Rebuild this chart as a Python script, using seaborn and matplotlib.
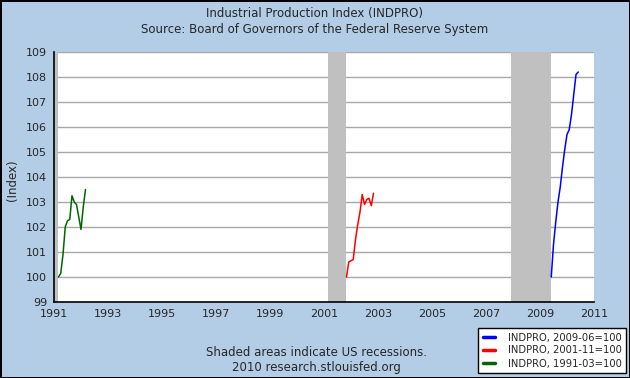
# Industrial Production Index (INDPRO) - indexed to start of each recovery
import seaborn as sns
import matplotlib.pyplot as plt
import pandas as pd

# monthly index values, each series starts at its recession trough (=100)
green_start = '1991-03'
green_vals = [100.0, 100.15, 100.9, 102.0, 102.25, 102.3, 103.25, 103.0,
              102.9, 102.4, 101.9, 102.8, 103.5]

red_start = '2001-11'
red_vals = [100.0, 100.6, 100.65, 100.7, 101.5, 102.1, 102.6, 103.3,
            102.9, 103.1, 103.15, 102.85, 103.35]

blue_start = '2009-06'
blue_vals = [100.0, 101.3, 102.2, 103.0, 103.6, 104.4, 105.1, 105.7,
             105.9, 106.5, 107.3, 108.1, 108.2]

labels = ['INDPRO, 2009-06=100', 'INDPRO, 2001-11=100', 'INDPRO, 1991-03=100']
colors = ['#0000ff', '#ff0000', '#006600']

# recession periods (start, end) as dates
recessions = [('1990-07', '1991-03'), ('2001-03', '2001-11'), ('2007-12', '2009-06')]

year_ticks = list(range(1991, 2012, 2))
y_ticks = list(range(99, 110))


def dec_year(d):
    d = pd.to_datetime(d)
    return d.year + (d.month - 1) / 12


frames = []
for start, vals, lab in [(blue_start, blue_vals, labels[0]),
                         (red_start, red_vals, labels[1]),
                         (green_start, green_vals, labels[2])]:
    dates = pd.date_range(start, periods=len(vals), freq='MS')
    frames.append(pd.DataFrame({'year': [dec_year(d) for d in dates],
                                'value': vals, 'series': lab}))
data = pd.concat(frames, ignore_index=True)

sns.set_style("white")
plt.rcParams['font.family'] = ['DejaVu Sans']

bg = '#b4cde6'
fig = plt.figure(figsize=(6.3, 3.78), dpi=100, facecolor=bg,
                 edgecolor='black', linewidth=2)
ax = fig.add_axes([54 / 630, 76 / 378, 540 / 630, 250 / 378])
ax.set_facecolor('white')

for a, b in recessions:
    ax.axvspan(dec_year(a), dec_year(b), color='#c0c0c0', lw=0, zorder=1)

for y in y_ticks[1:]:
    ax.axhline(y, color='#a8a8a8', lw=1, zorder=0.5)

sns.lineplot(data=data, x='year', y='value', hue='series',
             palette=dict(zip(labels, colors)), lw=1.1, legend=False,
             ax=ax, zorder=3)

ax.set_xlim(1991, 2011)
ax.set_ylim(99, 109)
ax.set_xticks(year_ticks)
ax.set_yticks(y_ticks)
ax.tick_params(axis='x', direction='in', length=6, width=1, labelsize=8,
               color='black', pad=5)
ax.tick_params(axis='y', direction='out', length=3, width=1, labelsize=8,
               color='black', pad=2)
for s in ['top', 'right']:
    ax.spines[s].set_visible(False)
for s in ['left', 'bottom']:
    ax.spines[s].set_color('black')
    ax.spines[s].set_linewidth(1.2)
ax.set_xlabel('')
ax.set_ylabel('')

fig.text(13 / 630, 1 - 180 / 378, '(Index)', rotation=90,
         ha='center', va='center', fontsize=8.5)
fig.text(0.5, 1 - 13 / 378, 'Industrial Production Index (INDPRO)',
         ha='center', va='center', fontsize=8.5)
fig.text(0.5, 1 - 30 / 378, 'Source: Board of Governors of the Federal Reserve System',
         ha='center', va='center', fontsize=8.5)
fig.text(316 / 630, 1 - 352 / 378, 'Shaded areas indicate US recessions.',
         ha='center', va='center', fontsize=8.5)
fig.text(316 / 630, 1 - 367 / 378, '2010 research.stlouisfed.org',
         ha='center', va='center', fontsize=8.5)

handles = [plt.Line2D([], [], color=c, lw=2.5) for c in colors]
leg = fig.legend(handles, labels, loc='lower right',
                 bbox_to_anchor=(626 / 630, 5 / 378), fontsize=7.2,
                 frameon=True, fancybox=False, edgecolor='black',
                 facecolor='white', framealpha=1, handlelength=1.2,
                 handletextpad=1.3, borderpad=0.45, labelspacing=0.3,
                 borderaxespad=0)
leg.get_frame().set_linewidth(1)

fig.savefig('out.png', dpi=100, facecolor=fig.get_facecolor(),
            edgecolor=fig.get_edgecolor())
plt.close(fig)
